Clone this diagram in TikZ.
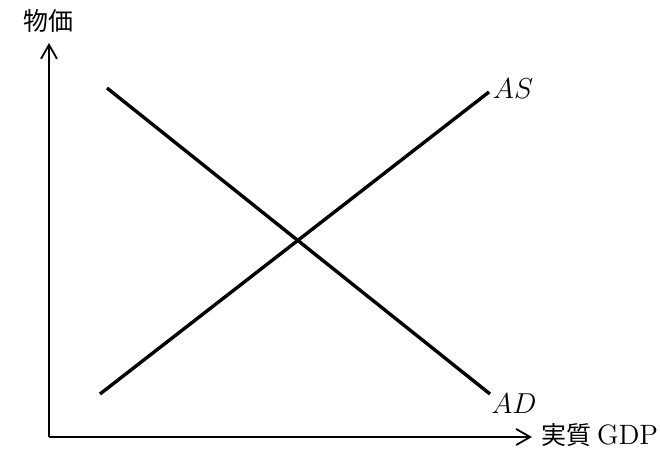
\documentclass[tikz,border=0pt]{standalone}
\usepackage{amsmath}
\usepackage{fontspec}
\newfontfamily\jpfont{Noto Sans CJK JP}
\usetikzlibrary{arrows.meta}

\begin{document}
\begin{tikzpicture}[x=0.5pt,y=-0.5pt,
    curve/.style={line width=1.7pt},
    axis/.style={line width=0.9pt,-{Straight Barb[length=7pt,width=8pt]}},
    lbl/.style={inner sep=0pt,font=\fontsize{14}{16}\selectfont},
    jplbl/.style={inner sep=0pt,font=\fontsize{12.5}{15}\selectfont\jpfont}]
\useasboundingbox (0,0) rectangle (660,450);
\coordinate (O) at (49,437);
\coordinate (ytop) at (49,43);
\coordinate (xtop) at (532,437);
\begin{scope}[axis]
    \draw (O)--(ytop);
    \draw (O)--(xtop);
\end{scope}
\node[jplbl] (price) at (49,21) {物価};
\node[jplbl,anchor=west] (gdp) at (541,435) {実質 {\rmfamily\fontsize{14}{16}\selectfont GDP}};
\begin{scope}[curve]
    \coordinate (ad1) at (107,88);
    \coordinate (ad2) at (490,394);
    \coordinate (as1) at (100,394);
    \coordinate (as2) at (489,92);
	\draw (ad1)--(ad2);
	\draw (as1)--(as2);
\end{scope}
\node[lbl] (ASl) at (513,89) {$AS$};
\node[lbl] (ADl) at (514,404) {$AD$};
\end{tikzpicture}
\end{document}
